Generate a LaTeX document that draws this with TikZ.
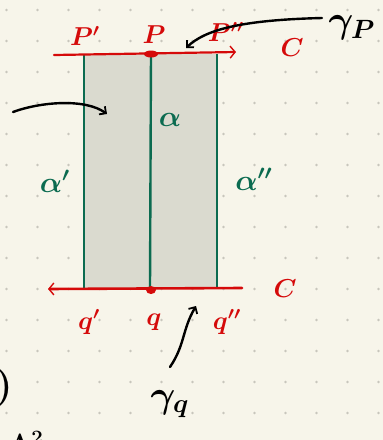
\documentclass[tikz,border=0pt]{standalone}
\usetikzlibrary{arrows.meta,shapes.geometric}
\definecolor{paper}{HTML}{F7F5EA}
\definecolor{dotc}{HTML}{C8C6BC}
\definecolor{fillg}{HTML}{DADACF}
\definecolor{inkred}{HTML}{D50A0A}
\definecolor{inkgreen}{HTML}{0B6B50}
\tikzset{
  redline/.style={draw=inkred, line width=2.2pt, line cap=round},
  greenline/.style={draw=inkgreen, line width=2.4pt},
  redlbl/.style={text=inkred, font=\LARGE\boldmath, scale=1.5},
  greenlbl/.style={text=inkgreen, font=\LARGE\boldmath, scale=1.7},
  blacklbl/.style={text=black, font=\LARGE\boldmath, scale=2.2},
  blackarrow/.style={draw=black, line width=2.4pt, line cap=round, -{Straight Barb[length=5pt,width=10pt,line width=1.8pt]}},
  redtip/.style={-{Straight Barb[length=5pt,width=12pt,line width=1.4pt]}}
}
\begin{document}
\begin{tikzpicture}[x=1pt,y=1pt]
  \useasboundingbox (0,0) rectangle (383,-440);
  \fill[paper] (0,0) rectangle (383,-440);
  % dot grid
  \foreach \i in {0,...,12} {
    \foreach \j in {0,...,14} {
      \fill[dotc] (6.5+31*\i,-10-31*\j) circle (1.3pt);
    }
  }
  % region
  \coordinate (tl) at (84,-54);
  \coordinate (tm) at (151,-54);
  \coordinate (tr) at (217,-54);
  \coordinate (bl) at (84,-288);
  \coordinate (bm) at (150,-288);
  \coordinate (br) at (217,-288);
  \fill[fillg] (tl) rectangle (br);
  \draw[greenline] (tl) -- (bl);
  \draw[greenline] (tm) -- (bm);
  \draw[greenline] (tr) -- (br);
  % top red curve C
  \coordinate (topL) at (54,-55);
  \coordinate (topR) at (236,-52);
  \draw[redline, redtip] (topL) -- (topR);
  \node[ellipse, fill=inkred, minimum width=14pt, minimum height=7pt, inner sep=0pt] (Pdot) at (tm) {};
  % bottom red curve C
  \coordinate (botR) at (242,-288);
  \coordinate (botL) at (48,-289);
  \draw[redline, line width=2.6pt, redtip] (botR) -- (botL);
  \node[ellipse, fill=inkred, minimum width=10pt, minimum height=8pt, inner sep=0pt] (qdot) at (151,-290) {};
  % labels top
  \node[redlbl] (Pp) at (85,-36) {$P'$};
  \node[redlbl] (P) at (154,-35) {$P$};
  \node[redlbl] (Ppp) at (226,-32) {$P''$};
  \node[redlbl] (Ctop) at (292,-48) {$C$};
  % labels bottom
  \node[redlbl] (qp) at (89,-322) {$q'$};
  \node[redlbl] (q) at (154,-322) {$q$};
  \node[redlbl] (qpp) at (227,-322) {$q''$};
  \node[redlbl] (Cbot) at (285,-289) {$C$};
  % green labels
  \node[greenlbl] (al) at (170,-120) {$\alpha$};
  \node[greenlbl] (alp) at (55,-181) {$\alpha'$};
  \node[greenlbl] (alpp) at (254,-179) {$\alpha''$};
  % black labels and arrows
  \node[blacklbl] (gP) at (352,-28) {$\gamma_P$};
  \node[blacklbl] (gq) at (170,-404) {$\gamma_q$};
  \coordinate (gPs) at (322,-18);
  \coordinate (gPe) at (186,-48);
  \draw[blackarrow] (gPs) .. controls (240,-20) and (205,-30) .. (gPe);
  \coordinate (ls) at (13,-112);
  \coordinate (le) at (107,-114);
  \draw[blackarrow] (ls) .. controls (40,-102) and (85,-98) .. (le);
  \coordinate (qs) at (170,-367);
  \coordinate (qe) at (196,-306);
  \draw[blackarrow] (qs) .. controls (185,-345) and (182,-330) .. (qe);
  % partial marks at lower left
  \node[blacklbl, anchor=east, inner sep=0pt] (paren) at (13,-388) {$)$};
  \node[text=black, font=\LARGE\boldmath, scale=1.7, anchor=south west, inner sep=0pt] (lam) at (8,-455) {$\Lambda^{2}$};
\end{tikzpicture}
\end{document}
